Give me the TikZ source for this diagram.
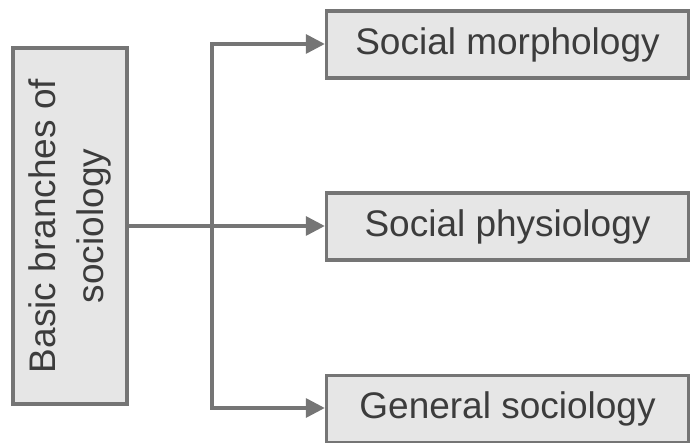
\documentclass[tikz,border=0pt]{standalone}
\usepackage{fontspec}
\setmainfont{Liberation Sans}
\usetikzlibrary{arrows.meta}
\definecolor{boxfill}{HTML}{E6E6E6}
\definecolor{edgegray}{HTML}{757575}
\definecolor{inkgray}{HTML}{3C3C3C}
\begin{document}
\begin{tikzpicture}[x=1pt,y=-1pt,
  branchbox/.style={draw=edgegray,line width=3.4pt,fill=boxfill,
    text=inkgray,font=\fontsize{37}{44}\selectfont,inner sep=0pt},
  link/.style={draw=edgegray,line width=3.4pt},
  tiplink/.style={link,-{Triangle[length=19pt,width=19pt]}}]
\useasboundingbox (0,0) rectangle (690,443);
% root box with rotated title
\node[branchbox,minimum width=114pt,minimum height=356pt] (root) at (70,226) {};
\node[text=inkgray,font=\fontsize{37}{48}\selectfont,rotate=90,align=center] (title) at (root.center) {Basic branches of\\sociology};
% branch boxes
\node[branchbox,minimum width=362pt,minimum height=67pt] (morph) at (507.5,44.5) {Social morphology};
\node[branchbox,minimum width=362pt,minimum height=67pt] (phys) at (507.5,226.5) {Social physiology};
\node[branchbox,minimum width=362pt,minimum height=67pt] (gen) at (507.5,409) {General sociology};
% connectors
\coordinate (split) at (212,226);
\coordinate (topbend) at (212,44);
\coordinate (botbend) at (212,408);
\draw[link,line join=miter] (topbend) -- (botbend);
\draw[tiplink] (root.east |- split) -- (phys.west |- split);
\draw[tiplink] ([xshift=-1.7pt]topbend) -- (morph.west |- topbend);
\draw[tiplink] ([xshift=-1.7pt]botbend) -- (gen.west |- botbend);
\end{tikzpicture}
\end{document}
